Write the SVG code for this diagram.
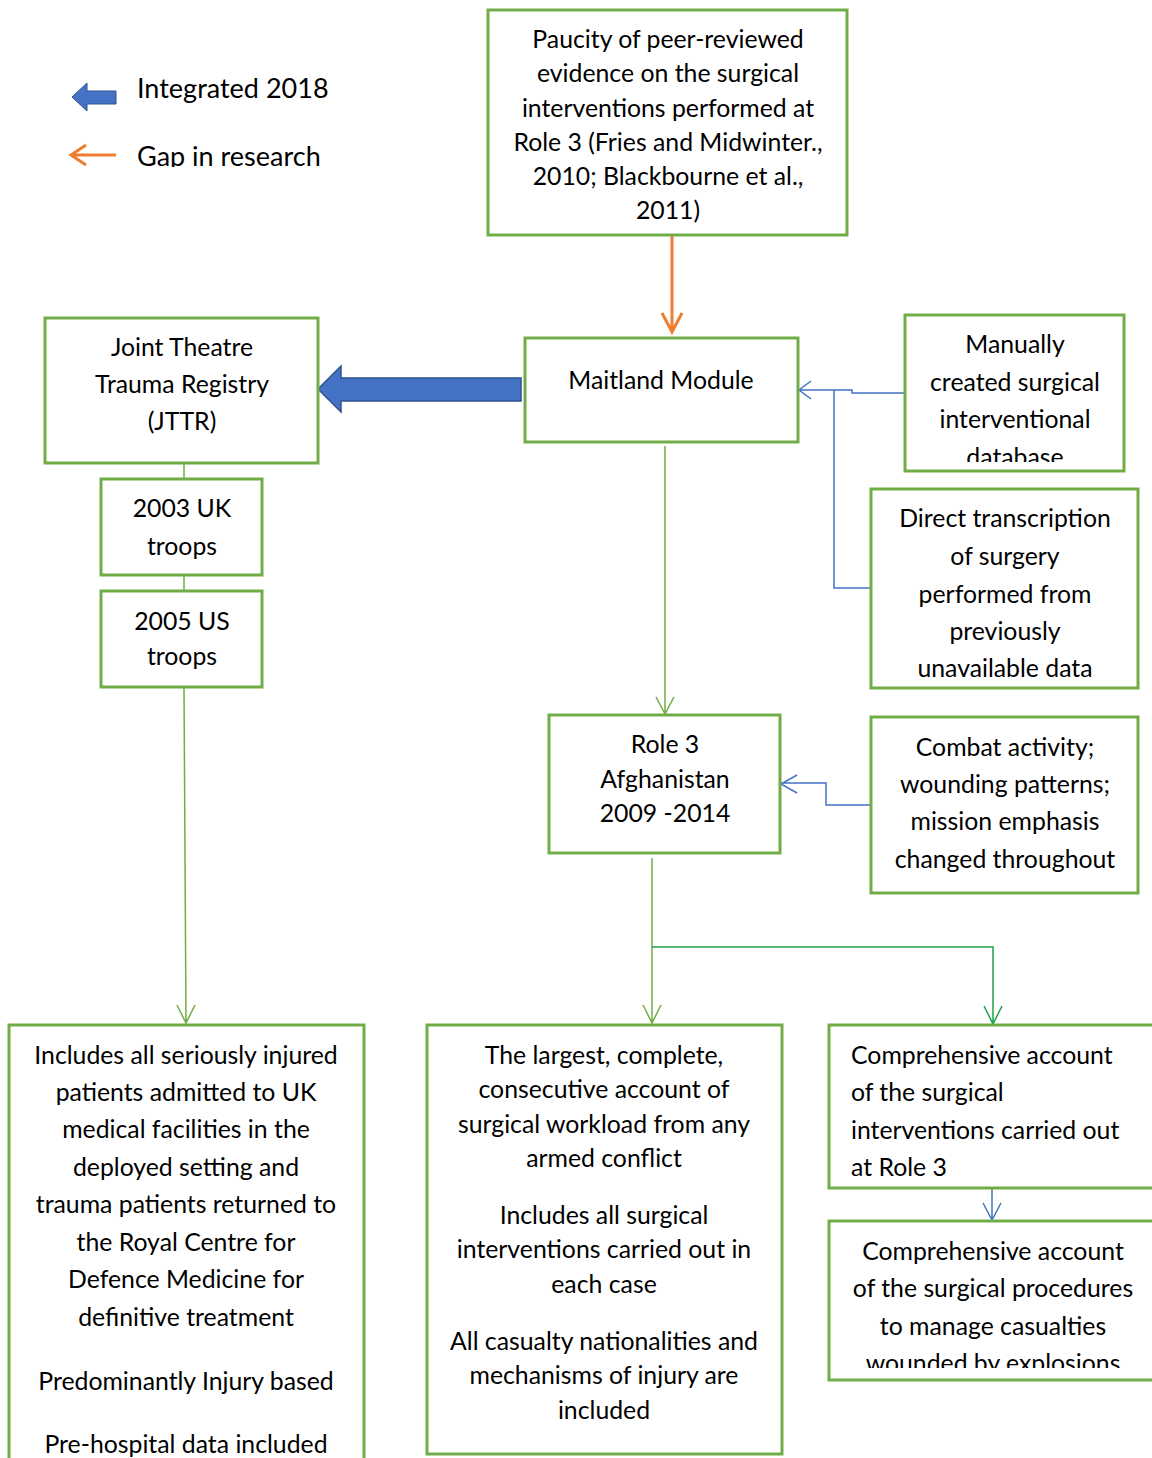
<svg xmlns="http://www.w3.org/2000/svg" width="1152" height="1458" viewBox="0 0 1152 1458">
<defs>
<style>
.box{fill:#fff;stroke:#70AD47;stroke-width:3}
.t{font-family:Lato,"Open Sans",sans-serif;font-size:24.8px;fill:#000;text-anchor:middle}
.l{text-anchor:start}
.g{fill:none;stroke:#70AD47;stroke-width:1.5}
.g2{fill:none;stroke:#1FA24A;stroke-width:1.5}
.b{fill:none;stroke:#4472C4;stroke-width:1.5}
</style>
<clipPath id="c1"><rect x="900" y="315" width="230" height="147"/></clipPath>
<clipPath id="c2"><rect x="829" y="1221" width="323" height="147"/></clipPath>
<clipPath id="c3"><rect x="120" y="130" width="240" height="37"/></clipPath>
</defs>
<rect width="1152" height="1458" fill="#fff"/>

<g id="legend">
<path d="M72,97 L87,83 L87,91 L116,91 L116,104 L87,104 L87,111 Z" fill="#4472C4" stroke="#2F528F" stroke-width="1"/>
<text class="t l" x="137" y="98" style="font-size:27px">Integrated 2018</text>
<path d="M116,155 L71,155 M86,145 L71,155 L86,165" fill="none" stroke="#ED7D31" stroke-width="3"/>
<text class="t l" x="137" y="166" clip-path="url(#c3)" style="font-size:27px">Gap in research</text>
</g>

<g id="connectors">
<path d="M672,235 L672,331 M662,313 L672,332 L682,313" fill="none" stroke="#ED7D31" stroke-width="3"/>
<path d="M521,378 L341,378 L341,366 L318,389 L341,412 L341,401 L521,401 Z" fill="#4472C4" stroke="#2F528F" stroke-width="1.5"/>
<path class="b" d="M905,393 L852,393 L852,390 L799,390 M811,381 L799,390 L811,399"/>
<path class="b" d="M871,588 L834,588 L834,390"/>
<path class="b" d="M871,805 L826,805 L826,783 L781,783 M797,775 L781,784 L797,793"/>
<path class="g" d="M665,446 L665,714 M656,697 L665,714 L674,697"/>
<path class="g" d="M184,463 L184,479 M184,575 L184,591"/>
<path class="g" d="M184,688 L186,1023 M177,1005 L186,1023 L195,1005"/>
<path class="g" d="M652,858 L652,1023 M643,1005 L652,1023 L661,1005"/>
<path class="g2" d="M652,947 L993,947 L993,1024 M984,1006 L993,1024 L1002,1006"/>
<path class="b" d="M992,1188 L992,1220 M983,1203 L992,1220 L1001,1203"/>
</g>

<g id="n-top">
<rect class="box" x="488" y="10" width="359" height="225"/>
<text class="t" x="668" y="48">Paucity of peer-reviewed</text>
<text class="t" x="668" y="82">evidence on the surgical</text>
<text class="t" x="668" y="117">interventions performed at</text>
<text class="t" x="668" y="151">Role 3 (Fries and Midwinter.,</text>
<text class="t" x="668" y="185">2010; Blackbourne et al.,</text>
<text class="t" x="668" y="219">2011)</text>
</g>

<g id="n-maitland">
<rect class="box" x="525" y="338" width="273" height="104"/>
<text class="t" x="661" y="389">Maitland Module</text>
</g>

<g id="n-jttr">
<rect class="box" x="45" y="318" width="273" height="145"/>
<text class="t" x="182" y="356">Joint Theatre</text>
<text class="t" x="182" y="393">Trauma Registry</text>
<text class="t" x="182" y="430">(JTTR)</text>
</g>

<g id="n-2003">
<rect class="box" x="101" y="479" width="161" height="96"/>
<text class="t" x="182" y="517">2003 UK</text>
<text class="t" x="182" y="555">troops</text>
</g>

<g id="n-2005">
<rect class="box" x="101" y="591" width="161" height="96"/>
<text class="t" x="182" y="630">2005 US</text>
<text class="t" x="182" y="665">troops</text>
</g>

<g id="n-manual">
<rect class="box" x="905" y="315" width="219" height="156"/>
<g clip-path="url(#c1)">
<text class="t" x="1015" y="353">Manually</text>
<text class="t" x="1015" y="391">created surgical</text>
<text class="t" x="1015" y="428">interventional</text>
<text class="t" x="1015" y="466">database</text>
</g>
</g>

<g id="n-direct">
<rect class="box" x="871" y="489" width="267" height="199"/>
<text class="t" x="1005" y="527">Direct transcription</text>
<text class="t" x="1005" y="565">of surgery</text>
<text class="t" x="1005" y="603">performed from</text>
<text class="t" x="1005" y="640">previously</text>
<text class="t" x="1005" y="677">unavailable data</text>
</g>

<g id="n-role3">
<rect class="box" x="549" y="715" width="231" height="138"/>
<text class="t" x="665" y="753">Role 3</text>
<text class="t" x="665" y="788">Afghanistan</text>
<text class="t" x="665" y="822">2009 -2014</text>
</g>

<g id="n-combat">
<rect class="box" x="871" y="717" width="267" height="176"/>
<text class="t" x="1005" y="756">Combat activity;</text>
<text class="t" x="1005" y="793">wounding patterns;</text>
<text class="t" x="1005" y="830">mission emphasis</text>
<text class="t" x="1005" y="868">changed throughout</text>
</g>

<g id="n-jttr-desc">
<rect class="box" x="9" y="1025" width="355" height="440"/>
<text class="t" x="186" y="1064">Includes all seriously injured</text>
<text class="t" x="186" y="1101">patients admitted to UK</text>
<text class="t" x="186" y="1138">medical facilities in the</text>
<text class="t" x="186" y="1176">deployed setting and</text>
<text class="t" x="186" y="1213">trauma patients returned to</text>
<text class="t" x="186" y="1251">the Royal Centre for</text>
<text class="t" x="186" y="1288">Defence Medicine for</text>
<text class="t" x="186" y="1326">definitive treatment</text>
<text class="t" x="186" y="1390">Predominantly Injury based</text>
<text class="t" x="186" y="1453">Pre-hospital data included</text>
</g>

<g id="n-largest">
<rect class="box" x="427" y="1025" width="355" height="429"/>
<text class="t" x="604" y="1064">The largest, complete,</text>
<text class="t" x="604" y="1098">consecutive account of</text>
<text class="t" x="604" y="1133">surgical workload from any</text>
<text class="t" x="604" y="1167">armed conflict</text>
<text class="t" x="604" y="1224">Includes all surgical</text>
<text class="t" x="604" y="1258">interventions carried out in</text>
<text class="t" x="604" y="1293">each case</text>
<text class="t" x="604" y="1350">All casualty nationalities and</text>
<text class="t" x="604" y="1384">mechanisms of injury are</text>
<text class="t" x="604" y="1419">included</text>
</g>

<g id="n-comp1">
<rect class="box" x="829" y="1025" width="340" height="163"/>
<text class="t l" x="851" y="1064">Comprehensive account</text>
<text class="t l" x="851" y="1101">of the surgical</text>
<text class="t l" x="851" y="1139">interventions carried out</text>
<text class="t l" x="851" y="1176">at Role 3</text>
</g>

<g id="n-comp2">
<rect class="box" x="829" y="1221" width="340" height="159"/>
<g clip-path="url(#c2)">
<text class="t" x="993" y="1260">Comprehensive account</text>
<text class="t" x="993" y="1297">of the surgical procedures</text>
<text class="t" x="993" y="1335">to manage casualties</text>
<text class="t" x="993" y="1372">wounded by explosions</text>
</g>
</g>
</svg>
